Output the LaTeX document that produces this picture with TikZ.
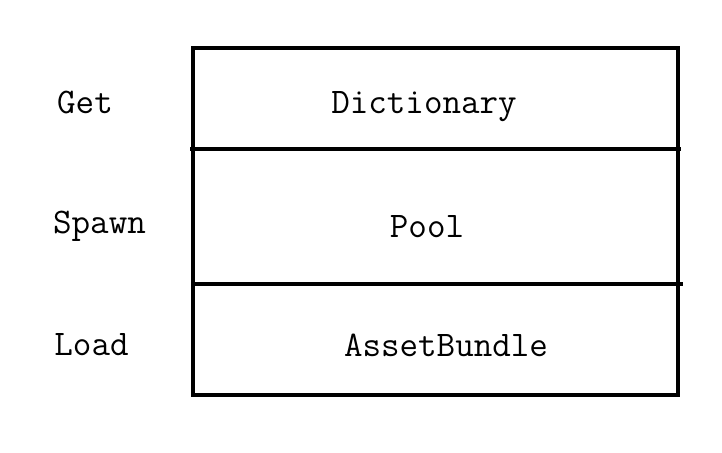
\documentclass[tikz,border=0pt]{standalone}
\usetikzlibrary{positioning}
\tikzset{lbl/.style={anchor=base,inner sep=0pt,font=\ttfamily\fontsize{36}{40}\selectfont},
  rule/.style={line width=4pt}}
\begin{document}
\begin{tikzpicture}[x=1pt,y=-1pt]
\useasboundingbox (0,0) rectangle (722,452);
\draw[rule] (193,48) rectangle (678,395);
\coordinate (d1l) at (190,149);
\coordinate (d1r) at (681,149);
\coordinate (d2l) at (193,283.5);
\coordinate (d2r) at (683,283.5);
\draw[rule] (d1l) -- (d1r);
\draw[rule] (d2l) -- (d2r);

\foreach \n/\v/\x/\y in {get/Get/85/113,spawn/Spawn/99.5/233,load/Load/91.5/355}
  \node[lbl] (\n) at (\x,\y) {\v};

\foreach \n/\v/\x/\y in {dict/Dictionary/424/113,pool/Pool/427/237,ab/AssetBundle/446/356}
  \node[lbl] (\n) at (\x,\y) {\v};
\end{tikzpicture}
\end{document}
